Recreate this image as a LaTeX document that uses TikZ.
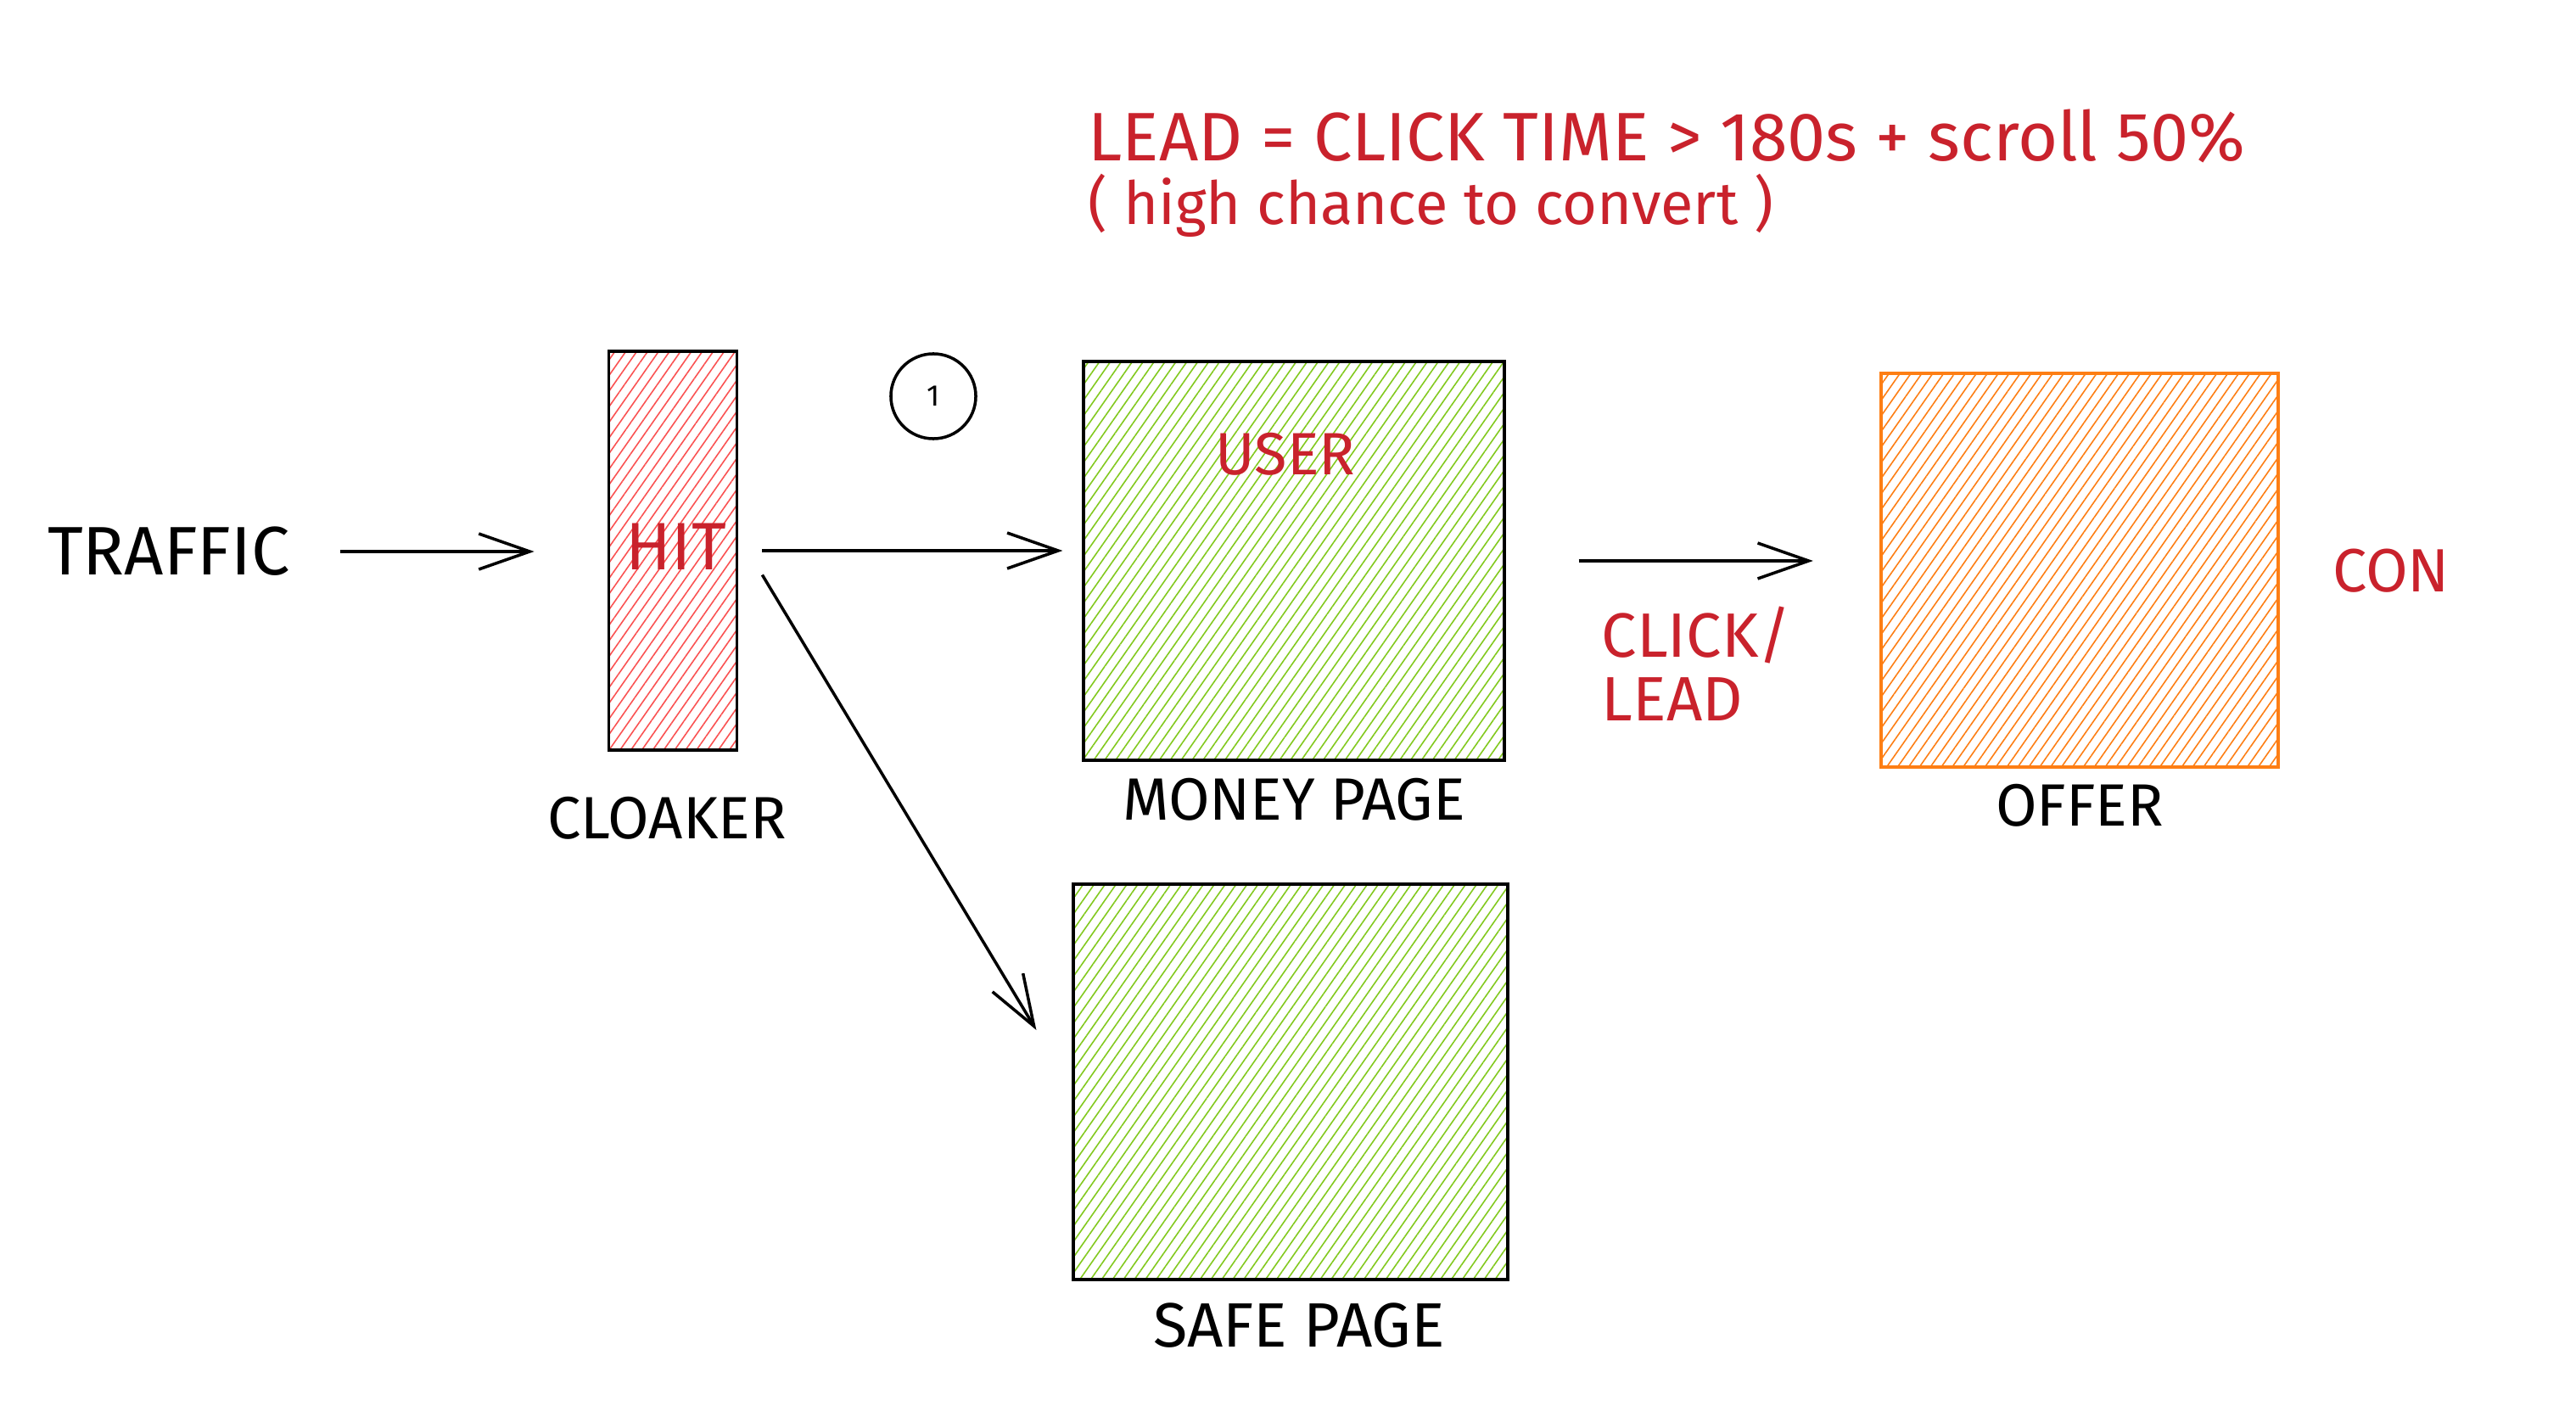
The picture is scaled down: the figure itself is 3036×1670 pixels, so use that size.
\documentclass[tikz,border=0pt]{standalone}
\usepackage{fontspec}
\setmainfont{Fira Sans}
\usetikzlibrary{positioning, arrows.meta, patterns.meta}

\definecolor{inkred}{RGB}{201,34,44}
\definecolor{hatchred}{RGB}{250,82,82}
\definecolor{hatchgreen}{RGB}{130,201,30}
\definecolor{hatchorange}{RGB}{253,126,20}

\begin{document}
\begin{tikzpicture}[
    x=0.01cm, y=-0.01cm,
    hatchbox/.style={rectangle, draw, line width=1.1pt, pattern color=#1,
        pattern={Lines[angle=55, distance=3pt, line width=0.45pt]}},
    caption/.style={inner sep=0pt, font=\fontsize{20}{24}\selectfont},
    redtext/.style={caption, text=inkred},
    myarrow/.style={-{Straight Barb[length=0.6cm, width=0.42cm]}, line width=1pt}
]
    \useasboundingbox (0,0) rectangle (3036,1670);

    \node[caption, font=\fontsize{23}{26}\selectfont] (traffic) at (199,650) {TRAFFIC};

    \node[hatchbox=hatchred, minimum width=1.51cm, minimum height=4.70cm] (cloaker) at (793,649) {};
    \node[redtext, font=\fontsize{22.5}{26}\selectfont] (hit) at (797,644) {HIT};
    \node[caption, below=0.54cm of cloaker, xshift=-0.07cm] (cloakerlabel) {CLOAKER};

    \node[circle, draw, line width=1pt, minimum size=1cm, inner sep=0pt,
        font=\fontsize{10}{12}\selectfont] (stepone) at (1100,467) {1};

    \node[hatchbox=hatchgreen, minimum width=4.95cm, minimum height=4.70cm] (money) at (1525,661) {};
    \node[redtext] (user) at (1515,535) {USER};
    \node[caption, below=0.18cm of money] (moneylabel) {MONEY PAGE};

    \node[hatchbox=hatchgreen, minimum width=5.11cm, minimum height=4.66cm] (safe) at (1521,1275) {};
    \node[caption, font=\fontsize{21}{25}\selectfont, below=0.25cm of safe, xshift=0.1cm] (safelabel) {SAFE PAGE};

    \node[hatchbox=hatchorange, draw=hatchorange, minimum width=4.68cm, minimum height=4.64cm] (offer) at (2451,672) {};
    \node[caption, below=0.17cm of offer] (offerlabel) {OFFER};
    \node[redtext, font=\fontsize{20.5}{24}\selectfont] (con) at (2818,673) {CON};

    \node[redtext, anchor=north west, align=left, font=\fontsize{21}{21.5}\selectfont] (clicklead) at (1887,714) {CLICK/\\LEAD};

    \node[redtext, anchor=north west, align=left, font=\fontsize{23}{21.5}\selectfont] (rule) at (1282,128)
        {LEAD = CLICK TIME > 180s + scroll 50\%\\{\fontsize{20}{21.5}\selectfont ( high chance to convert )}};

    \draw[myarrow, shorten <=0.58cm, shorten >=0.87cm] (traffic.east) -- (traffic.east -| cloaker.west);
    \draw[myarrow, shorten <=0.29cm, shorten >=0.23cm] (cloaker.east) -- (cloaker.east -| money.west);
    \draw[myarrow] ([xshift=0.29cm, yshift=-0.285cm]cloaker.east) -- ([xshift=-0.42cm, yshift=0.61cm]safe.west);
    \draw[myarrow, shorten <=0.86cm, shorten >=0.78cm] (money.east) -- (money.east -| offer.west);

\end{tikzpicture}
\end{document}
